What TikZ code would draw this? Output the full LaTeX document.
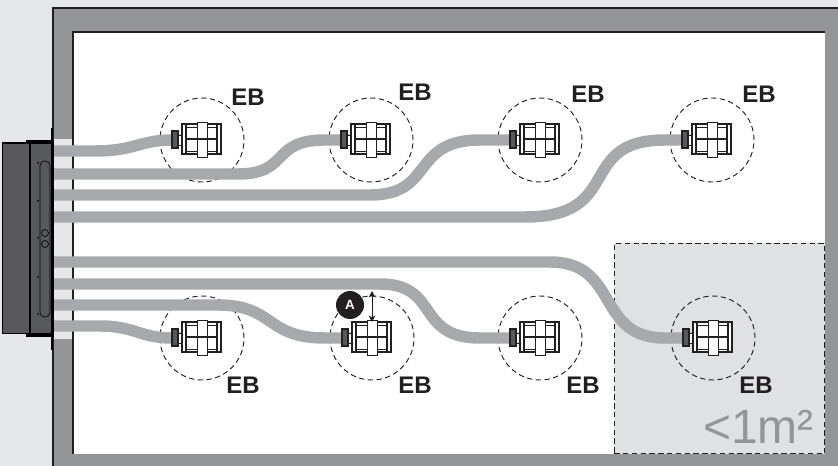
\documentclass[tikz,border=0pt]{standalone}
\usepackage{fontspec}
\setmainfont{Liberation Sans}
\usetikzlibrary{arrows.meta, positioning, calc}
\definecolor{wallgray}{RGB}{147, 149, 152}
\definecolor{pagegray}{RGB}{230, 231, 232}
\definecolor{zonegray}{RGB}{224, 225, 227}
\definecolor{tubegray}{RGB}{167, 169, 172}
\definecolor{hooddark}{RGB}{88, 89, 91}
\definecolor{inkblack}{RGB}{35, 31, 32}
\tikzset{
  tube/.style={line width=8.6pt, tubegray},
  ebzone/.style={circle, draw=inkblack, dash pattern=on 4pt off 2.6pt, line width=0.7pt, minimum size=63pt, inner sep=0pt},
  eblabel/.style={font=\fontsize{18}{18}\selectfont\bfseries, text=inkblack, inner sep=0pt},
  unitbox/.style={draw=none, minimum width=30pt, minimum height=24pt, inner sep=0pt},
  hood/.style={draw=black, fill=hooddark, line width=1pt},
  hooddot/.style={circle, fill=black, minimum size=1.5pt, inner sep=0pt}
}
\newcommand{\ebunit}[1]{%
  \begin{scope}[shift={(#1)}, inkblack, line width=0.6pt]
    % collar and nut
    \draw[fill=white] (-24,-5) rectangle (-17,5);
    \draw[fill=hooddark, line width=1pt] (-30,-9) rectangle (-24,8);
    % body
    \draw[fill=white, line width=1.4pt] (-20,-16) rectangle (19,14);
    \draw[line width=0.5pt] (-16,-13) -- (16,-13);
    \draw[line width=0.5pt] (-16,11) -- (16,11);
    \draw[fill=white, line width=1.4pt] (-20,-16) rectangle (-16,14);
    \draw[fill=white, line width=1.4pt] (15,-16) rectangle (19,14);
    \draw[line width=1.3pt] (-16,-1) -- (15,-1);
    \draw[fill=white, line width=0.7pt] (-5,-18) rectangle (5,17);
    \draw[line width=1.3pt] (-5,-1) -- (5,-1);
  \end{scope}
}
\begin{document}
\begin{tikzpicture}[x=0.75pt, y=-0.75pt]
        \useasboundingbox (0,0) rectangle (838,466);
        % Room
        \fill[pagegray] (0,0) rectangle (838,466);
        \fill[wallgray] (53,8) rectangle (838,466);
        \fill[white] (73,32) rectangle (825,454);
        \fill[pagegray] (53,139) rectangle (73,339);
        \draw[inkblack, line width=0.8pt] (53,466) -- (53,8) -- (838,8);
        \draw[inkblack, line width=0.8pt] (73,454) -- (73,32) -- (825,32);
        % Zone
        \node[draw=inkblack, dash pattern=on 4pt off 2.6pt, fill=zonegray, line width=0.6pt, minimum size=158pt, inner sep=0pt] (zone) at (719.5,348.5) {};
        % Circles
        \foreach \name/\xx/\yy in {ebA/202/140, ebB/371/140, ebC/540/140, ebD/712/140, ebE/202/338, ebF/372/338, ebG/540/338, ebH/713/338} {
            \node[ebzone] (\name) at (\xx,\yy) {};
            \node[unitbox] (\name u) at (\xx,\yy) {};
        }
        % Outlets
        \foreach \i/\yy in {1/151, 2/174, 3/195, 4/217, 5/262, 6/284, 7/305, 8/326} {
            \coordinate (out\i) at (53,\yy);
        }
        % Tubes
        \draw[tube] (out1) -- (95,151) .. controls (135,151) and (140,140) .. (172,140) -- (ebAu);
        \draw[tube] (out2) -- (238,174) .. controls (290,174) and (270,140) .. (325,140) -- (ebBu);
        \draw[tube] (out3) -- (370,195) .. controls (435,195) and (410,140) .. (480,140) -- (ebCu);
        \draw[tube] (out4) -- (525,217) .. controls (625,217) and (575,140) .. (665,140) -- (ebDu);
        \draw[tube] (out5) -- (550,262) .. controls (620,262) and (595,338) .. (665,338) -- (ebHu);
        \draw[tube] (out6) -- (380,284) .. controls (440,284) and (415,338) .. (480,338) -- (ebGu);
        \draw[tube] (out7) -- (218,305) .. controls (275,305) and (265,338) .. (325,338) -- (ebFu);
        \draw[tube] (out8) -- (100,326) .. controls (135,326) and (140,338) .. (172,338) -- (ebEu);
        % Units
        \foreach \name in {ebA, ebB, ebC, ebD, ebE, ebF, ebG, ebH} {
            \ebunit{\name u}
        }
        % Labels
        \node[eblabel] (lblA) at (248,97) {EB};
        \node[eblabel] (lblB) at (415,92) {EB};
        \node[eblabel] (lblC) at (588,94) {EB};
        \node[eblabel] (lblD) at (759,94) {EB};
        \node[eblabel] (lblE) at (243,385) {EB};
        \node[eblabel] (lblF) at (415,385) {EB};
        \node[eblabel] (lblG) at (583,385) {EB};
        \node[eblabel] (lblH) at (756,385) {EB};
        \node[anchor=base east, inner sep=0pt, text=wallgray, font=\fontsize{36}{36}\selectfont] (area) at (814,443) {<1m²};
        % Distance mark
        \node[circle, fill=inkblack, text=white, minimum size=21pt, inner sep=0pt, font=\fontsize{10}{10}\selectfont\bfseries] (markA) at (350,305) {A};
        \coordinate (gaptop) at (372,291);
        \coordinate (gapbot) at (372,322);
        \draw[{Stealth[length=5pt,width=5pt]}-{Stealth[length=5pt,width=5pt]}, inkblack, line width=0.7pt] (gaptop) -- (gapbot);
        % Air handler
        \node[hood, minimum width=20pt, minimum height=143pt, inner sep=0pt] (hoodback) at (16,238.5) {};
        \node[hood, minimum width=17pt, minimum height=143pt, inner sep=0pt] (hoodfront) at (41.5,238.5) {};
        \node[draw=black, fill=black, minimum width=20pt, minimum height=2pt, inner sep=0pt] (flangeT) at (40,142) {};
        \node[draw=black, fill=black, minimum width=20pt, minimum height=2pt, inner sep=0pt] (flangeB) at (40,335) {};
        \draw[black, line width=1.5pt] (52,128) -- (52,350);
        \node[draw=black, rounded corners=3.5pt, line width=0.5pt, minimum width=7.5pt, minimum height=117pt, inner sep=0pt] (slot) at (45,239) {};
        \node[circle, draw=black, line width=0.5pt, minimum size=5.25pt, inner sep=0pt] (knobT) at (45,233) {};
        \node[circle, draw=black, line width=0.5pt, minimum size=5.25pt, inner sep=0pt] (knobB) at (45,244) {};
        \foreach \yy in {163, 201, 238, 277, 314} {
            \node[hooddot] at (38,\yy) {};
            \node[hooddot] at (52,\yy) {};
        }
    \end{tikzpicture}
\end{document}
